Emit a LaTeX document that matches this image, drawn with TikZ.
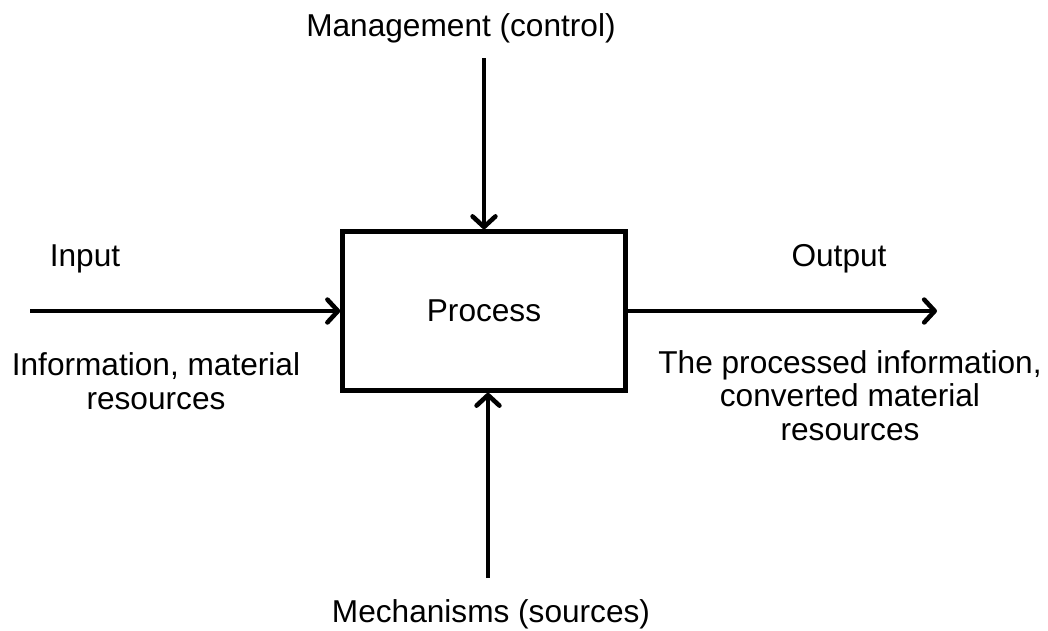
\documentclass[tikz,border=0pt]{standalone}
\usepackage{fontspec}
\setmainfont{Liberation Sans}
\usetikzlibrary{arrows.meta}

\begin{document}
\begin{tikzpicture}[x=0.02cm, y=-0.02cm,
    >={Straight Barb[length=6pt,width=13pt,round]}, line width=2.6pt,
    lbl/.style={font=\fontsize{18}{19}\selectfont, inner sep=0pt, align=center}]
  \useasboundingbox (0,0) rectangle (1048,630);
  % --- center: process box ---
  \node[draw, lbl, minimum width=5.66cm, minimum height=3.18cm] (proc) at (484,311) {Process};

  % --- top: management ---
  \node[lbl, anchor=base] (ctl) at (461,36) {Management (control)};
  \coordinate (ctlstart) at (484,58);
  \draw[->] (ctlstart) -- (proc.north);

  % --- left: input ---
  \node[lbl, anchor=base] (inp) at (85,266) {Input};
  \node[lbl, anchor=base] (inpinfo) at (156,409) {Information, material\\resources};
  \coordinate (inpstart) at (30,311);
  \draw[->] (inpstart) -- (proc.west);

  % --- right: output ---
  \node[lbl, anchor=base] (out) at (839,266) {Output};
  \node[lbl, anchor=base] (outinfo) at (850,440) {The processed information,\\converted material\\resources};
  \coordinate (outend) at (937,311);
  \draw[->] (proc.east) -- (outend);

  % --- bottom: mechanisms ---
  \node[lbl, anchor=base] (mech) at (491,622) {Mechanisms (sources)};
  \coordinate (mechstart) at (488,578);
  \draw[->] (mechstart) -- (mechstart |- proc.south);
\end{tikzpicture}
\end{document}
